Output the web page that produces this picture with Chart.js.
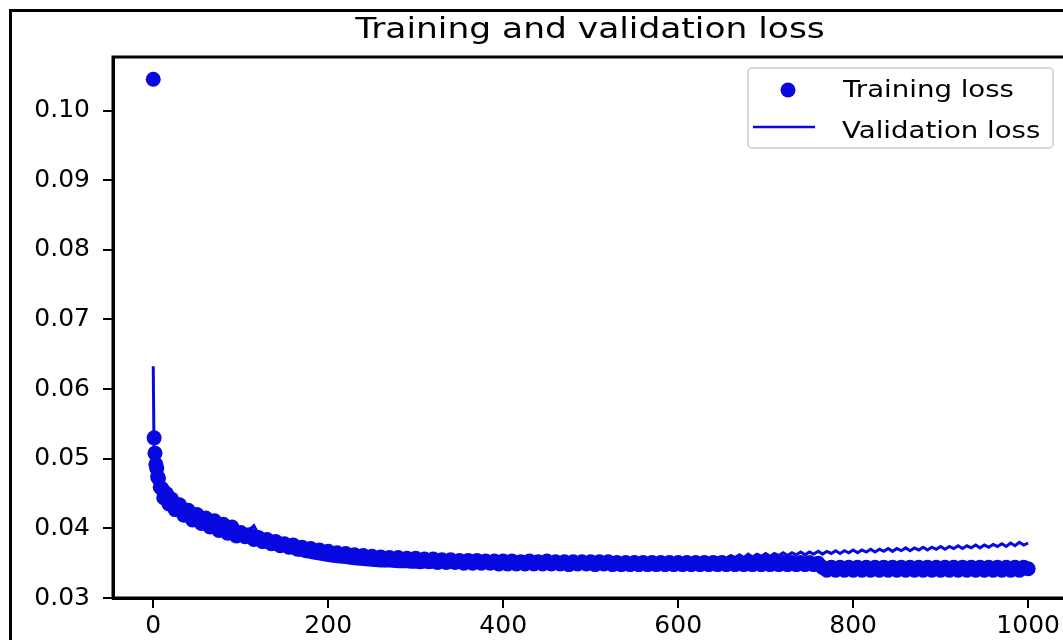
<!DOCTYPE html>
<html>
<head>
<meta charset="utf-8">
<script src="https://cdn.jsdelivr.net/npm/chart.js@4.4.1/dist/chart.umd.min.js"></script>
<style>
  html, body { margin: 0; padding: 0; background: #fff; overflow: hidden; }
  #wrap { position: relative; width: 1063px; height: 640px; overflow: hidden; }
  #grafico { position: absolute; left: 0; top: 0; }
  #moldura { position: absolute; left: 9px; top: 9px; width: 1100px; height: 700px;
             border-left: 3px solid #000; border-top: 3px solid #000; pointer-events: none; }
</style>
</head>
<body>
<div id="wrap">
  <canvas id="grafico" width="1090" height="640"></canvas>
  <div id="moldura"></div>
</div>
<script>
const titulo = 'Training and validation loss';

const trainEpochs = [0, 1, 2, 3, 4, 5, 6, 8, 10, 12, 15, 18, 21, 25, 30, 35, 40, 45, 50, 55, 60, 65, 70, 75, 80, 85, 90, 95,
  100, 105, 110, 115, 120, 125, 130, 135, 140, 145, 150, 155, 160, 165, 170, 175, 180, 185, 190, 195,
  200, 205, 210, 215, 220, 225, 230, 235, 240, 245, 250, 255, 260, 265, 270, 275, 280, 285, 290, 295,
  300, 305, 310, 315, 320, 325, 330, 335, 340, 345, 350, 355, 360, 365, 370, 375, 380, 385, 390, 395,
  400, 405, 410, 415, 420, 425, 430, 435, 440, 445, 450, 455, 460, 465, 470, 475, 480, 485, 490, 495,
  500, 505, 510, 515, 520, 525, 530, 535, 540, 545, 550, 555, 560, 565, 570, 575, 580, 585, 590, 595,
  600, 605, 610, 615, 620, 625, 630, 635, 640, 645, 650, 655, 660, 665, 670, 675, 680, 685, 690, 695,
  700, 705, 710, 715, 720, 725, 730, 735, 740, 745, 750, 755, 760, 765, 770, 775, 780, 785, 790, 795,
  800, 805, 810, 815, 820, 825, 830, 835, 840, 845, 850, 855, 860, 865, 870, 875, 880, 885, 890, 895,
  900, 905, 910, 915, 920, 925, 930, 935, 940, 945, 950, 955, 960, 965, 970, 975, 980, 985, 990, 995,
  1000];

const trainLoss = [0.1045, 0.0530, 0.0508, 0.0492, 0.0486, 0.0474, 0.0472, 0.0459, 0.0457, 0.0444, 0.0450, 0.0435, 0.0442,
  0.0427, 0.0434, 0.0419, 0.0426, 0.0412, 0.0420, 0.0407, 0.0415, 0.0402, 0.0411, 0.0397, 0.0406, 0.0393, 0.0402, 0.0389,
  0.0394, 0.0388, 0.0391, 0.0384, 0.0387, 0.0381, 0.0384, 0.0378, 0.0381, 0.0375,
  0.0378, 0.0373, 0.0376, 0.0370, 0.0373, 0.0368, 0.0371, 0.0366, 0.0369, 0.0364,
  0.0367, 0.0362, 0.0365, 0.0361, 0.0364, 0.0359, 0.0362, 0.0358, 0.0361, 0.0357,
  0.0360, 0.0356, 0.0359, 0.0355, 0.0358, 0.0355, 0.0358, 0.0354, 0.0357, 0.0353,
  0.0357, 0.0352, 0.0356, 0.0352, 0.0356, 0.0351, 0.0355, 0.0351, 0.0355, 0.0351,
  0.0354, 0.0350, 0.0354, 0.0350, 0.0354, 0.0350, 0.0353, 0.0350, 0.0353, 0.0349,
  0.0353, 0.0349, 0.0353, 0.0349, 0.0352, 0.0349, 0.0353, 0.0349, 0.0352, 0.0349,
  0.0353, 0.0349, 0.0352, 0.0349, 0.0352, 0.0348, 0.0352, 0.0349, 0.0352, 0.0349,
  0.0352, 0.0348, 0.0352, 0.0349, 0.0352, 0.0348, 0.0351, 0.0348, 0.0351, 0.0348,
  0.0351, 0.0348, 0.0351, 0.0348, 0.0351, 0.0348, 0.0351, 0.0348, 0.0351, 0.0348,
  0.0351, 0.0348, 0.0351, 0.0348, 0.0351, 0.0348, 0.0351, 0.0348, 0.0351, 0.0348,
  0.0351, 0.0348, 0.0351, 0.0348, 0.0351, 0.0348, 0.0351, 0.0348, 0.0351, 0.0348,
  0.0351, 0.0348, 0.0351, 0.0348, 0.0351, 0.0348, 0.0351, 0.0348, 0.0351, 0.0348,
  0.0351, 0.0348, 0.0350, 0.0344, 0.0340, 0.0344, 0.0340, 0.0344, 0.0340, 0.0344,
  0.0340, 0.0344, 0.0340, 0.0344, 0.0340, 0.0344, 0.0340, 0.0344, 0.0340, 0.0344,
  0.0340, 0.0344, 0.0340, 0.0344, 0.0340, 0.0344, 0.0340, 0.0344, 0.0340, 0.0344,
  0.0340, 0.0344, 0.0340, 0.0344, 0.0340, 0.0344, 0.0340, 0.0344, 0.0340, 0.0344,
  0.0340, 0.0344, 0.0340, 0.0344, 0.0340, 0.0344, 0.0340, 0.0344, 0.0340, 0.0344,
  0.0342];

const valEpochs = [0, 1, 2, 3, 4, 5, 6, 8, 10, 12, 15, 18, 21, 25, 30, 35, 40, 45, 50, 55, 60, 65, 70, 75, 80, 85, 90, 95,
  100, 105, 110, 115, 120, 125, 130, 140, 150, 160, 170, 180, 190, 200, 210, 220, 230, 240, 250, 260, 270, 280, 290,
  300, 310, 320, 330, 340, 350, 360, 370, 380, 390, 400, 410, 420, 430, 440, 450, 460, 470, 480, 490,
  500, 510, 520, 530, 540, 550, 560, 570, 580, 590, 600, 610, 620, 630, 640,
  650, 655, 660, 665, 670, 675, 680, 685, 690, 695, 700, 705, 710, 715, 720, 725, 730, 735, 740, 745,
  750, 755, 760, 765, 770, 775, 780, 785, 790, 795, 800, 805, 810, 815, 820, 825, 830, 835, 840, 845,
  850, 855, 860, 865, 870, 875, 880, 885, 890, 895, 900, 905, 910, 915, 920, 925, 930, 935, 940, 945,
  950, 955, 960, 965, 970, 975, 980, 985, 990, 995, 1000];

const valLoss = [0.0633, 0.0497, 0.0478, 0.0467, 0.0460, 0.0455, 0.0451, 0.0446, 0.0442, 0.0439, 0.0435, 0.0432, 0.0429,
  0.0426, 0.0422, 0.0418, 0.0415, 0.0412, 0.0409, 0.0406, 0.0404, 0.0401, 0.0399, 0.0396, 0.0394, 0.0392, 0.0389, 0.0387,
  0.0385, 0.0390, 0.0398, 0.0404, 0.0392, 0.0383, 0.0378, 0.0372, 0.0368, 0.0364, 0.0361, 0.0358, 0.0356, 0.0354, 0.0352,
  0.0351, 0.0349, 0.0348, 0.0347, 0.0346, 0.0346, 0.0345, 0.0345, 0.0344, 0.0345, 0.0344, 0.0345, 0.0344, 0.0345, 0.0344,
  0.0345, 0.0344, 0.0345, 0.0344, 0.0345, 0.0344, 0.0345, 0.0345, 0.0346, 0.0346, 0.0347, 0.0347, 0.0348, 0.0349, 0.0349,
  0.0350, 0.0350, 0.0351, 0.0351, 0.0352, 0.0352, 0.0353, 0.0354, 0.0355, 0.0355, 0.0356, 0.0356, 0.0357,
  0.0358, 0.0356, 0.0361, 0.0358, 0.0362, 0.0358, 0.0363, 0.0359, 0.0363, 0.0360,
  0.0364, 0.0360, 0.0364, 0.0361, 0.0365, 0.0361, 0.0365, 0.0362, 0.0366, 0.0362,
  0.0366, 0.0363, 0.0367, 0.0363, 0.0367, 0.0364, 0.0368, 0.0364, 0.0368, 0.0365,
  0.0369, 0.0365, 0.0369, 0.0366, 0.0370, 0.0366, 0.0370, 0.0367, 0.0371, 0.0367,
  0.0371, 0.0368, 0.0372, 0.0368, 0.0372, 0.0369, 0.0373, 0.0369, 0.0373, 0.0370,
  0.0374, 0.0370, 0.0374, 0.0371, 0.0375, 0.0371, 0.0375, 0.0372, 0.0376, 0.0372,
  0.0376, 0.0373, 0.0377, 0.0374, 0.0378, 0.0374, 0.0379, 0.0375, 0.0380, 0.0376,
  0.0379];

const azul = 'rgb(8, 8, 225)';
const fonte = '"DejaVu Sans", sans-serif';

const trainPts = trainEpochs.map((e, i) => ({ x: e, y: trainLoss[i] }));
const valPts = valEpochs.map((e, i) => ({ x: e, y: valLoss[i] }));

// titulo, moldura do eixo e legenda no estilo do matplotlib
const extras = {
  id: 'extras',
  afterDatasetsDraw(chart) {
    const { ctx, chartArea: a } = chart;
    ctx.save();
    ctx.strokeStyle = '#000';
    ctx.lineWidth = 3;
    ctx.strokeRect(a.left, a.top, a.right - a.left, a.bottom - a.top);
    ctx.restore();
  },
  afterDraw(chart) {
    const { ctx } = chart;
    const ds = chart.data.datasets;
    ctx.save();
    ctx.fillStyle = '#000';
    ctx.font = '28px ' + fonte;
    ctx.textAlign = 'center';
    ctx.translate(590, 38);
    ctx.scale(1.23, 1);
    ctx.fillText(titulo, 0, 0);
    ctx.restore();

    ctx.save();
    ctx.beginPath();
    ctx.roundRect(748, 68, 305, 80, 4);
    ctx.fillStyle = 'rgba(255,255,255,0.8)';
    ctx.fill();
    ctx.strokeStyle = '#cccccc';
    ctx.lineWidth = 1.5;
    ctx.stroke();

    ctx.fillStyle = azul;
    ctx.beginPath();
    ctx.arc(788, 90, 7.5, 0, Math.PI * 2);
    ctx.fill();

    ctx.strokeStyle = azul;
    ctx.lineWidth = 2.5;
    ctx.beginPath();
    ctx.moveTo(753, 127);
    ctx.lineTo(815, 127);
    ctx.stroke();

    ctx.fillStyle = '#000';
    ctx.font = '23px ' + fonte;
    ctx.textAlign = 'left';
    [[ds[0].label, 843, 97], [ds[1].label, 842, 138]].forEach(([txt, x, y]) => {
      ctx.save();
      ctx.translate(x, y);
      ctx.scale(1.2, 1);
      ctx.fillText(txt, 0, 0);
      ctx.restore();
    });
    ctx.restore();
  }
};

new Chart(document.getElementById('grafico').getContext('2d'), {
  type: 'scatter',
  data: {
    datasets: [
      {
        label: 'Training loss',
        data: trainPts,
        showLine: false,
        pointRadius: 7.5,
        pointBorderWidth: 0,
        pointBackgroundColor: azul,
        order: 1
      },
      {
        label: 'Validation loss',
        data: valPts,
        showLine: true,
        borderColor: azul,
        borderWidth: 3,
        pointRadius: 0,
        fill: false,
        order: 0
      }
    ]
  },
  options: {
    responsive: false,
    animation: false,
    layout: { padding: { left: 0, top: 57, right: 19, bottom: 0 } },
    plugins: { legend: { display: false }, tooltip: { enabled: false }, title: { display: false } },
    scales: {
      x: {
        type: 'linear',
        min: -46,
        max: 1049,
        afterFit: s => { s.height = 42; },
        grid: { display: true, drawOnChartArea: false, drawTicks: true, tickLength: 10, color: '#000', lineWidth: 2 },
        border: { display: true, color: '#000', width: 3 },
        ticks: {
          stepSize: 200,
          includeBounds: false,
          padding: 3,
          color: '#000',
          font: { family: fonte, size: 25 },
          maxRotation: 0,
          callback: v => String(v)
        }
      },
      y: {
        type: 'linear',
        min: 0.03,
        max: 0.1077,
        afterFit: s => { s.width = 113; },
        grid: { display: true, drawOnChartArea: false, drawTicks: true, tickLength: 10, color: '#000', lineWidth: 2 },
        border: { display: true, color: '#000', width: 3 },
        ticks: {
          stepSize: 0.01,
          includeBounds: false,
          padding: 13,
          color: '#000',
          font: { family: fonte, size: 25 },
          callback: v => v.toFixed(2)
        }
      }
    }
  },
  plugins: [extras]
});
</script>
</body>
</html>
